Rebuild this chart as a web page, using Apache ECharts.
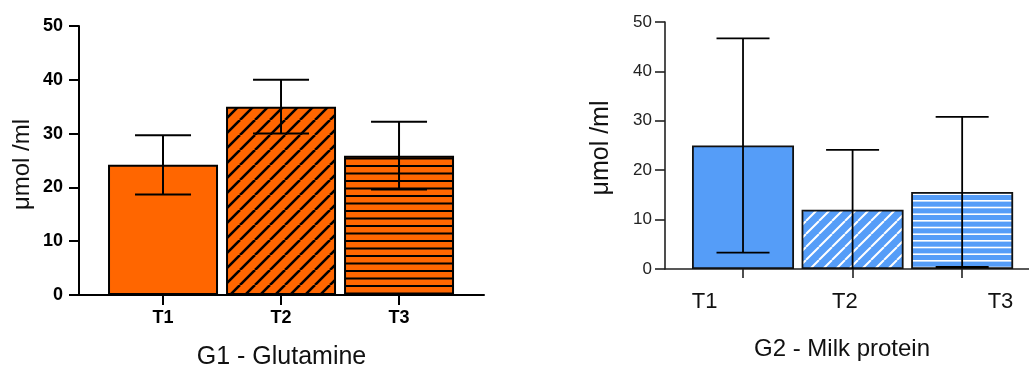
<!DOCTYPE html>
<html>
<head>
<meta charset="utf-8">
<script src="https://cdn.jsdelivr.net/npm/echarts@6/dist/echarts.min.js"></script>
<style>
html,body{margin:0;padding:0;background:#fff;}
#c{width:1029px;height:367px;}
</style>
</head>
<body>
<div id="c"></div>
<script>
// ---- data ----
const categories = ['T1', 'T2', 'T3'];
const g1Means = [24.2, 35.0, 25.9];
const g1SD = [5.5, 5.0, 6.3];
const g2Means = [25.0, 12.0, 15.6];
const g2SD = [21.7, 12.1, 15.2];
const yTicks = [0, 10, 20, 30, 40, 50];
const g1Title = 'G1 - Glutamine';
const g2Title = 'G2 - Milk protein';
const yTitle = 'μmol /ml';

// ---- styles / layout ----
const FONT = "'Liberation Sans', Arial, Helvetica, sans-serif";
const ORANGE = '#FF6600';
const BLUE = '#559DF8';
const g2LabelPos = [-0.35, 0.93, 2.35]; // label placement on G2 axis (as drawn in the reference)

function diag(bg, fg, size, lw) {
  const c = document.createElement('canvas');
  c.width = size; c.height = size;
  const g = c.getContext('2d');
  g.fillStyle = bg; g.fillRect(0, 0, size, size);
  g.strokeStyle = fg; g.lineWidth = lw;
  g.beginPath();
  for (let k = -1; k <= 1; k++) { g.moveTo(k * size, size); g.lineTo(k * size + size, 0); }
  g.stroke();
  return { image: c, repeat: 'repeat' };
}
function hlines(bg, fg, h, ys, lw) {
  const c = document.createElement('canvas');
  c.width = 4; c.height = h;
  const g = c.getContext('2d');
  g.fillStyle = bg; g.fillRect(0, 0, 4, h);
  g.fillStyle = fg;
  ys.forEach(y => g.fillRect(0, y, 4, lw));
  return { image: c, repeat: 'repeat' };
}

const g1Fills = [ORANGE, diag(ORANGE, '#000', 15, 2.6), hlines(ORANGE, '#000', 15, [0, 7.5], 2)];
const g2Fills = [BLUE, diag(BLUE, '#fff', 13, 2), hlines(BLUE, '#fff', 20, [0, 6.7, 13.4], 1.6)];

function barData(means, fills) {
  return means.map((m, i) => ({ value: [i, m], itemStyle: { color: fills[i] } }));
}
function errData(means, sd) {
  return means.map((m, i) => [i, m - sd[i], m + sd[i]]);
}
function errRender(capW, lw, color) {
  return function (params, api) {
    const x = api.value(0), lo = api.value(1), hi = api.value(2);
    const pHi = api.coord([x, hi]);
    const pLo = api.coord([x, Math.max(lo, 0)]);
    const st = { stroke: color, lineWidth: lw };
    const ch = [
      { type: 'line', shape: { x1: pHi[0], y1: pHi[1], x2: pLo[0], y2: pLo[1] }, style: st },
      { type: 'line', shape: { x1: pHi[0] - capW / 2, y1: pHi[1], x2: pHi[0] + capW / 2, y2: pHi[1] }, style: st }
    ];
    if (lo >= 0) ch.push({ type: 'line', shape: { x1: pLo[0] - capW / 2, y1: pLo[1], x2: pLo[0] + capW / 2, y2: pLo[1] }, style: st });
    return { type: 'group', children: ch };
  };
}

const chart = echarts.init(document.getElementById('c'), null, { renderer: 'canvas' });
chart.setOption({
  animation: false,
  backgroundColor: '#fff',
  grid: [
    { left: 79, top: 26, width: 405, height: 269, outerBoundsMode: 'none', containLabel: false },
    { left: 665, top: 22, width: 364, height: 247, outerBoundsMode: 'none', containLabel: false }
  ],
  xAxis: [
    {
      gridIndex: 0, type: 'value', min: -0.712, max: 2.72,
      axisLine: { show: true, onZero: false, lineStyle: { color: '#000', width: 2 } },
      axisTick: { show: true, customValues: [0, 1, 2], length: 10, lineStyle: { color: '#000', width: 2 } },
      axisLabel: { customValues: [0, 1, 2], formatter: v => categories[Math.round(v)], margin: 14,
        fontFamily: FONT, fontWeight: 'bold', fontSize: 18, color: '#000' },
      splitLine: { show: false },
      name: g1Title, nameLocation: 'middle', nameGap: 50,
      nameTextStyle: { fontFamily: FONT, fontSize: 25, color: '#111' }
    },
    {
      gridIndex: 1, type: 'value', min: -0.712, max: 2.61,
      axisLine: { show: true, onZero: false, lineStyle: { color: '#222', width: 1.6 } },
      axisTick: { show: true, customValues: [0, 1, 2], length: 9, lineStyle: { color: '#222', width: 1.6 } },
      axisLabel: { customValues: g2LabelPos, formatter: v => categories[g2LabelPos.indexOf(v)], margin: 22,
        fontFamily: FONT, fontSize: 22, color: '#111' },
      splitLine: { show: false },
      name: g2Title, nameLocation: 'middle', nameGap: 68,
      nameTextStyle: { fontFamily: FONT, fontSize: 24, color: '#111', padding: [0, 10, 0, 0] }
    }
  ],
  yAxis: [
    {
      gridIndex: 0, type: 'value', min: yTicks[0], max: yTicks[yTicks.length - 1], interval: 10,
      axisLine: { show: true, onZero: false, lineStyle: { color: '#000', width: 2 } },
      axisTick: { show: true, length: 10, lineStyle: { color: '#000', width: 2 } },
      axisLabel: { margin: 16, fontFamily: FONT, fontWeight: 'bold', fontSize: 18, color: '#000' },
      splitLine: { show: false },
      name: yTitle, nameLocation: 'middle', nameGap: 45,
      nameTextStyle: { fontFamily: FONT, fontSize: 24, color: '#111', padding: [0, 8, 0, 0] }
    },
    {
      gridIndex: 1, type: 'value', min: yTicks[0], max: yTicks[yTicks.length - 1], interval: 10,
      axisLine: { show: true, onZero: false, lineStyle: { color: '#222', width: 1.6 } },
      axisTick: { show: true, length: 10, lineStyle: { color: '#222', width: 1.6 } },
      axisLabel: { margin: 13, fontFamily: FONT, fontSize: 17, color: '#222' },
      splitLine: { show: false },
      name: yTitle, nameLocation: 'middle', nameGap: 51,
      nameTextStyle: { fontFamily: FONT, fontSize: 25, color: '#111', padding: [0, 5, 0, 0] }
    }
  ],
  series: [
    {
      type: 'bar', xAxisIndex: 0, yAxisIndex: 0, barWidth: 110,
      itemStyle: { borderColor: '#000', borderWidth: 2 },
      data: barData(g1Means, g1Fills), z: 2
    },
    {
      type: 'bar', xAxisIndex: 1, yAxisIndex: 1, barWidth: 102,
      itemStyle: { borderColor: '#111', borderWidth: 1.8 },
      data: barData(g2Means, g2Fills), z: 2
    },
    {
      type: 'custom', xAxisIndex: 0, yAxisIndex: 0, z: 5, clip: false,
      renderItem: errRender(56, 2, '#000'),
      encode: { x: 0, y: [1, 2] },
      data: errData(g1Means, g1SD)
    },
    {
      type: 'custom', xAxisIndex: 1, yAxisIndex: 1, z: 5, clip: false,
      renderItem: errRender(53, 1.8, '#000'),
      encode: { x: 0, y: [1, 2] },
      data: errData(g2Means, g2SD)
    }
  ]
});
</script>
</body>
</html>
